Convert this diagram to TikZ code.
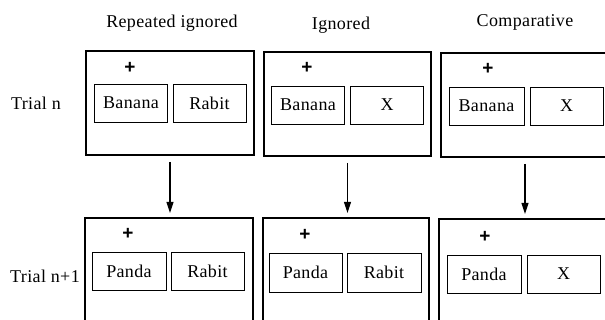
\documentclass[tikz,border=0pt]{standalone}
\usepackage{fontspec}
\setmainfont{Liberation Serif}[LetterSpace=2]
\newfontfamily\plusfont{Liberation Sans}
\usetikzlibrary{arrows.meta}
\begin{document}
\begin{tikzpicture}[x=1pt,y=-1pt,
  outerbox/.style={draw,line width=1.1pt,minimum width=168pt,inner sep=0pt,outer sep=0pt},
  innerbox/.style={draw,line width=0.9pt,minimum width=73pt,minimum height=38pt,inner sep=0pt,font=\fontsize{18}{20}\selectfont},
  lbl/.style={font=\fontsize{18}{20}\selectfont,inner sep=0pt},
  plus/.style={font=\plusfont\fontsize{19}{21}\selectfont\bfseries,inner sep=0pt},
  arr/.style={line width=1.1pt,-{Triangle[length=11pt,width=7pt]},shorten <=7pt,shorten >=5pt}]
\useasboundingbox (0,0) rectangle (605,320);
% titles
\node[lbl] (h1) at (172,23) {Repeated ignored};
\node[lbl] (h2) at (341,25) {Ignored};
\node[lbl] (h3) at (525,22) {Comparative};
\node[lbl] (r1) at (36,103) {Trial n};
\node[lbl] (r2) at (45,276) {Trial n+1};
% outer boxes
\node[outerbox,minimum height=104pt] (t1) at (170,103) {};
\node[outerbox,minimum height=104pt,minimum width=167pt] (t2) at (347.5,104) {};
\node[outerbox,minimum height=104pt] (t3) at (525,105) {};
\node[outerbox,minimum height=112pt] (b1) at (169,274) {};
\node[outerbox,minimum height=112pt,minimum width=166pt] (b2) at (346,274) {};
\node[outerbox,minimum height=112pt] (b3) at (523,275) {};
% plus signs
\node[plus] (p1) at (130,68) {+};
\node[plus] (p2) at (307,68) {+};
\node[plus] (p3) at (488,69) {+};
\node[plus] (p4) at (128,234) {+};
\node[plus] (p5) at (305,235) {+};
\node[plus] (p6) at (485,237) {+};
% inner boxes
\node[innerbox] (a1) at (131,103) {Banana};
\node[innerbox] (a2) at (209.5,103) {Rabit};
\node[innerbox] (a3) at (308,105) {Banana};
\node[innerbox] (a4) at (387,105) {X};
\node[innerbox,minimum width=75pt] (a5) at (486.5,106) {Banana};
\node[innerbox] (a6) at (566.5,106) {X};
\node[innerbox,minimum width=74pt] (c1) at (129,271) {Panda};
\node[innerbox] (c2) at (207.5,271) {Rabit};
\node[innerbox,minimum height=39pt] (c3) at (305.5,272.5) {Panda};
\node[innerbox,minimum width=74pt,minimum height=39pt] (c4) at (384,272.5) {Rabit};
\node[innerbox,minimum width=74pt] (c5) at (484,274) {Panda};
\node[innerbox] (c6) at (563.5,274) {X};
% arrows
\draw[arr] (t1.south) -- (t1.south |- b1.north);
\draw[arr] (t2.south) -- (t2.south |- b2.north);
\draw[arr] (t3.south) -- (t3.south |- b3.north);
\end{tikzpicture}
\end{document}
